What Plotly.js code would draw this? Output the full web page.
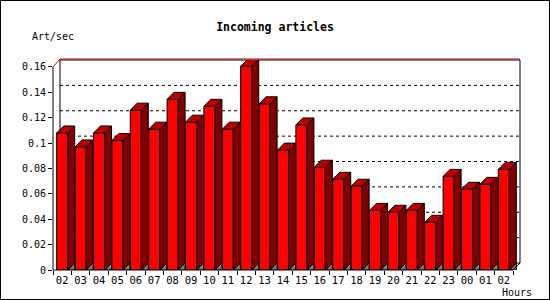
<!DOCTYPE html>
<html>
<head>
<meta charset="utf-8">
<script src="https://cdn.plot.ly/plotly-3.0.1.min.js"></script>
<style>html,body{margin:0;padding:0;background:#fff;}#chart{width:550px;height:300px;}</style>
</head>
<body>
<div id="chart"></div>
<script>
// ---- data ----
const hours = ['02','03','04','05','06','07','08','09','10','11','12','13','14','15','16','17','18','19','20','21','22','23','00','01','02'];
const rates = [0.108,0.097,0.108,0.102,0.126,0.111,0.1345,0.1165,0.129,0.111,0.1605,0.131,0.0945,0.1143,0.081,0.0715,0.066,0.047,0.0455,0.047,0.0376,0.0738,0.0636,0.0675,0.0793];
const yTickVals = [0,0.02,0.04,0.06,0.08,0.1,0.12,0.14,0.16];
const yTickText = ['0','0.02','0.04','0.06','0.08','0.1','0.12','0.14','0.16'];

// ---- 3D style constants ----
const DX = 0.38, DY = 0.0055, HW = 0.3;
const xs = hours.map((h,i)=>i);
const n = hours.length;
const xr = [-0.5, n - 0.5 + DX];
const yr = [0, 0.16 + DY];
const px = x => (x - xr[0])/(xr[1]-xr[0]);
const py = y => (y - yr[0])/(yr[1]-yr[0]);
const PXY = 1/210; // one pixel in paper-y

const sideX=[], sideY=[], topX=[], topY=[], floorX=[], floorY=[];
xs.forEach((x,i)=>{
  const v = rates[i];
  sideX.push(x+HW, x+HW, x+HW+DX, x+HW+DX, x+HW, null);
  sideY.push(0, v, v+DY, DY, 0, null);
  topX.push(x-HW, x+HW, x+HW+DX, x-HW+DX, x-HW, null);
  topY.push(v, v, v+DY, v+DY, v, null);
  floorX.push(x+HW, x+HW+DX, x+HW+DX, x+HW, null);
  floorY.push(0, DY, 0, 0, null);
});

const traces = [
  {type:'bar', x:xs, y:rates, width:0.6, marker:{color:'#ff0000', line:{color:'#000', width:1}}, hoverinfo:'skip'},
  {type:'scatter', mode:'lines', x:floorX, y:floorY, fill:'toself', fillcolor:'#808080', line:{color:'#000', width:1}, hoverinfo:'skip'},
  {type:'scatter', mode:'lines', x:sideX, y:sideY, fill:'toself', fillcolor:'#800000', line:{color:'#000', width:1}, hoverinfo:'skip'},
  {type:'scatter', mode:'lines', x:topX, y:topY, fill:'toself', fillcolor:'#c00000', line:{color:'#000', width:1}, hoverinfo:'skip'}
];

const shapes = [];
// back wall
shapes.push({type:'rect', xref:'paper', yref:'paper', layer:'below',
  x0:px(-0.5+DX), x1:px(n-0.5+DX), y0:py(DY), y1:py(0.16+DY),
  fillcolor:'#fff', line:{color:'#000', width:1}});
// dotted grid lines on back wall
yTickVals.filter(v=>v>0 && v<0.16).forEach(v=>{
  shapes.push({type:'line', xref:'paper', yref:'paper', layer:'below',
    x0:px(-0.5+DX), x1:px(n-0.5+DX), y0:py(v+DY), y1:py(v+DY),
    line:{color:'#000', width:1, dash:'dot'}});
});
// red top edge
shapes.push({type:'path', xref:'paper', yref:'paper', layer:'above',
  path:`M ${px(-0.5)} ${py(0.16)} L ${px(-0.5+DX)} ${py(0.16+DY)+PXY} L ${px(n-0.5+DX)} ${py(0.16+DY)+PXY}`,
  line:{color:'#cc0000', width:1}});
// front frame: left axis, bottom axis, right floor diagonal
shapes.push({type:'path', xref:'paper', yref:'paper', layer:'above',
  path:`M ${px(-0.5)} ${py(0.16)} L ${px(-0.5)} ${py(0)} L ${px(n-0.5)} ${py(0)} L ${px(n-0.5+DX)} ${py(DY)}`,
  line:{color:'#000', width:1}});
// outer image border
shapes.push({type:'rect', xref:'paper', yref:'paper', layer:'above',
  x0:(0.5-53)/467, x1:(549.5-53)/467, y0:(270-299.5)/210, y1:(270-0.5)/210,
  line:{color:'#000', width:1}});

const mono = 'DejaVu Sans Mono';
const layout = {
  width:550, height:300,
  margin:{l:53, r:30, t:60, b:30},
  paper_bgcolor:'#fff', plot_bgcolor:'rgba(0,0,0,0)',
  showlegend:false,
  title:{text:'<b>Incoming articles</b>', font:{family:mono, size:11.5, color:'#000'},
    xref:'container', x:0.5, xanchor:'center', yref:'container', y:1-27/300, yanchor:'middle'},
  xaxis:{range:xr, tickmode:'array', tickvals:xs, ticktext:hours, ticks:'', showgrid:false, zeroline:false, showline:false,
    ticklabelstandoff:2,
    tickfont:{family:mono, size:10.5, color:'#000'},
    minor:{ticks:'outside', ticklen:4, tickcolor:'#000', tick0:-0.5, dtick:1, showgrid:false}},
  yaxis:{range:yr, tickmode:'array', tickvals:yTickVals, ticktext:yTickText, ticks:'outside', ticklen:4, tickcolor:'#000',
    showgrid:false, zeroline:false, showline:false, tickfont:{family:mono, size:10, color:'#000'}},
  shapes:shapes,
  annotations:[
    {text:'Art/sec', xref:'paper', yref:'paper', x:(30-53)/467, xanchor:'left', y:(270-36.5)/210, yanchor:'middle', showarrow:false,
      font:{family:mono, size:10, color:'#000'}},
    {text:'Hours', xref:'paper', yref:'paper', x:(534-53)/467, xanchor:'right', y:(270-292)/210, yanchor:'middle', showarrow:false,
      font:{family:mono, size:10, color:'#000'}}
  ],
  bargap:0
};
Plotly.newPlot('chart', traces, layout, {staticPlot:true, displayModeBar:false});
</script>
</body>
</html>
